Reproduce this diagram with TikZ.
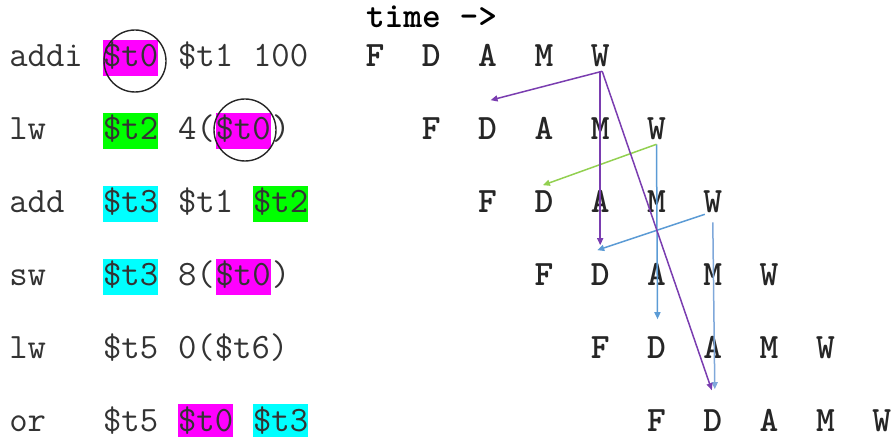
\documentclass[tikz,border=0pt]{standalone}
\usepackage{fontspec}
\usetikzlibrary{arrows.meta,calc}
\definecolor{hmag}{HTML}{FF00FF}
\definecolor{hgrn}{HTML}{00FF00}
\definecolor{hcyn}{HTML}{00FFFF}
\definecolor{apur}{HTML}{7A3DB0}
\definecolor{agrn}{HTML}{92D050}
\definecolor{ablu}{HTML}{5B9BD5}
\definecolor{ablu2}{HTML}{7FA8DA}
\begin{document}
\begin{tikzpicture}[x=1pt,y=-1pt,
  every node/.style={inner sep=0pt,outer sep=0pt},
  code/.style={anchor=base west,font=\fontsize{35.7}{40}\selectfont\ttfamily,text=black!80},
  hl/.style={code,text height=27pt,text depth=9pt,fill=#1},
  hllast/.style={code,text height=27pt,text depth=6pt,fill=#1},
  stage/.style={anchor=base,font=\fontsize{35.7}{40}\selectfont\ttfamily\bfseries,text=black!85},
  ring/.style={draw=black!85,line width=1.4pt,circle,minimum size=62pt},
  dep/.style={-{Triangle[length=7pt,width=6pt]},line width=1.5pt,draw=#1}]
\useasboundingbox (0,0) rectangle (892,438);
% title
\node[code,font=\fontsize{35.7}{40}\selectfont\ttfamily\bfseries,text=black] (time) at (366,28) {time ->};
% instruction text
\node[code] (i1a) at (9.25,67) {addi};
\node[hl=hmag] (i1b) at (103,67) {\$t0};
\node[code] (i1c) at (178,67) {\$t1};
\node[code] (i1d) at (253,67) {100};

\node[code] (i2a) at (9.25,140) {lw};
\node[hl=hgrn] (i2b) at (103,140) {\$t2};
\node[code] (i2c) at (178,140) {4(};
\node[hl=hmag] (i2d) at (215.5,140) {\$t0};
\node[code] (i2e) at (271.75,140) {)};

\node[code] (i3a) at (9.25,213) {add};
\node[hl=hcyn] (i3b) at (103,213) {\$t3};
\node[code] (i3c) at (178,213) {\$t1};
\node[hl=hgrn] (i3d) at (253,213) {\$t2};

\node[code] (i4a) at (9.25,286) {sw};
\node[hl=hcyn] (i4b) at (103,286) {\$t3};
\node[code] (i4c) at (178,286) {8(};
\node[hl=hmag] (i4d) at (215.5,286) {\$t0};
\node[code] (i4e) at (271.75,286) {)};

\node[code] (i5a) at (9.25,359) {lw};
\node[code] (i5b) at (103,359) {\$t5};
\node[code] (i5c) at (178,359) {0(\$t6)};

\node[code] (i6a) at (9.25,431) {or};
\node[code] (i6b) at (103,431) {\$t5};
\node[hllast=hmag] (i6c) at (178,431) {\$t0};
\node[hllast=hcyn] (i6d) at (253,431) {\$t3};
% circles
\node[ring] (c1) at (135,61) {};
\node[ring] (c2) at (245,130) {};
% pipeline stages
\foreach \r/\y in {1/67,2/140,3/213,4/286,5/359,6/431}{
  \foreach [count=\i from 0] \s in {F,D,A,M,W}{
    \pgfmathsetmacro\xx{375+56.3*(\r-1+\i)}
    \node[stage] (r\r\s) at (\xx,\y) {\s};
  }
}
% dependency arrows
\draw[dep=ablu2] ($(r3W.south)+(0,9)$) -- ($(r6D.north)+(2,-20)$);
\draw[dep=ablu] ($(r2W.south)+(0,4)$) -- ($(r5D.north)+(1,-18)$);
\draw[dep=ablu] ($(r3W.south)+(-8,1)$) -- ($(r4D.north)+(-3,-14)$);
\draw[dep=agrn] ($(r2W.south)+(0,4)$) -- ($(r3D.north)+(-1,-6)$);
\draw[dep=apur] ($(r1W.south)+(2,4)$) -- ($(r2D.north)+(3,-18)$);
\draw[dep=apur] ($(r1W.south)+(0,4)$) -- ($(r4D.north)+(0,-19)$);
\draw[dep=apur] ($(r1W.south)+(2,4)$) -- ($(r6D.north)+(-1,-19)$);
\end{tikzpicture}
\end{document}
